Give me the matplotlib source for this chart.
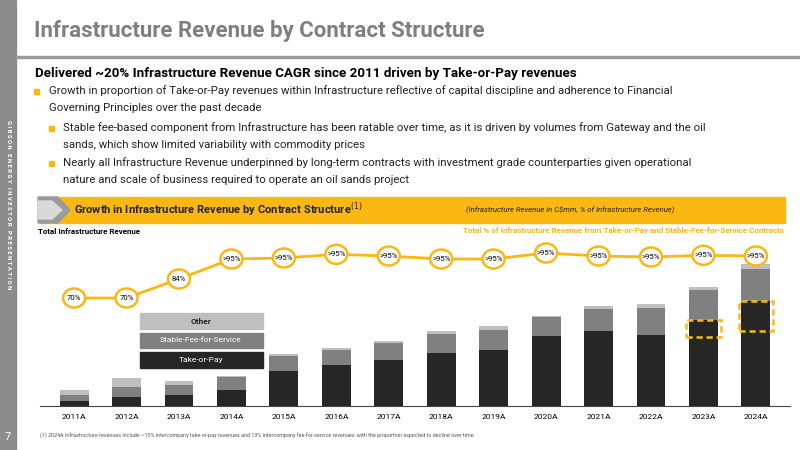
import matplotlib
matplotlib.use("Agg")
import matplotlib.pyplot as plt
from matplotlib.patches import Rectangle, Polygon, Ellipse

plt.rcParams["font.family"] = ["Roboto", "DejaVu Sans"]

years = ["2011A", "2012A", "2013A", "2014A", "2015A", "2016A", "2017A",
         "2018A", "2019A", "2020A", "2021A", "2022A", "2023A", "2024A"]
take_or_pay = [5.3, 9.3, 11, 15.7, 35, 40.7, 46, 53, 55.7, 70, 75, 71, 85.7, 105]
stable_fee = [5.7, 9.7, 10, 13.3, 15.3, 15.3, 17.3, 18.7, 20, 19, 22, 27, 30.3, 32.3]
other = [5.3, 9.3, 4, 1.3, 2, 1.7, 2, 3.6, 4.3, 1, 3.3, 3.7, 3.3, 5]
pct_labels = ["70%", "70%", "84%"] + [">95%"] * 11
pct_pos = [108, 108, 127, 147, 148, 151.7, 150, 147, 147, 153, 150, 149, 150.7, 150]

GOLD = "#FBB812"
C_TOP, C_SFS, C_OTH = "#262626", "#808080", "#bfbfbf"
W, H = 800, 450

fig = plt.figure(figsize=(8, 4.5), dpi=100)


def px(x, y):
    return x / W, 1 - y / H


def txt(x, y, s, **kw):
    fig.text(*px(x, y), s, **kw)


def rect(x0, y0, x1, y1, **kw):
    fig.patches.append(Rectangle(px(x0, y1), (x1 - x0) / W, (y1 - y0) / H,
                                 transform=fig.transFigure, **kw))


# sidebar
rect(0, 0, 16, 450, color="#8c8c8c")
txt(8, 205, "G I B S O N   E N E R G Y   I N V E S T O R   P R E S E N T A T I O N",
    rotation=-90, color="white", fontsize=4.2, ha="center", va="center", fontweight="bold")
txt(8, 437, "7", color="white", fontsize=8, ha="center", va="center")

# header
txt(34, 31, "Infrastructure Revenue by Contract Structure", fontsize=16,
    fontweight="bold", color="#7f7f7f", va="center")
rect(16, 56, 800, 58, color="#9a9a9a")
txt(35, 74, "Delivered ~20% Infrastructure Revenue CAGR since 2011 driven by Take-or-Pay revenues",
    fontsize=9.6, fontweight="bold", va="center")
bullets = [
    (36, 49, 91, "Growth in proportion of Take-or-Pay revenues within Infrastructure reflective of capital discipline and adherence to Financial"),
    (None, 49, 108, "Governing Principles over the past decade"),
    (51, 63, 128, "Stable fee-based component from Infrastructure has been ratable over time, as it is driven by volumes from Gateway and the oil"),
    (None, 63, 145, "sands, which show limited variability with commodity prices"),
    (51, 63, 163, "Nearly all Infrastructure Revenue underpinned by long-term contracts with investment grade counterparties given operational"),
    (None, 63, 180, "nature and scale of business required to operate an oil sands project"),
]
for bx, tx, y, s in bullets:
    if bx is not None:
        rect(bx - 2.5, y - 2.5, bx + 2.5, y + 2.5, color=GOLD)
    txt(tx, y, s, fontsize=8.2, va="center", color="#222222")

# banner
rect(40, 197, 785, 223, color=GOLD)
fig.patches.append(Polygon([px(38, 197), px(58, 197), px(70, 210), px(58, 223), px(38, 223)],
                           closed=True, transform=fig.transFigure, color="#9a9a9a"))
fig.patches.append(Polygon([px(38, 201), px(52, 201), px(62, 210), px(52, 219), px(38, 219)],
                           closed=True, transform=fig.transFigure, color="#d9d9d9"))
txt(74, 210, "Growth in Infrastructure Revenue by Contract Structure$^{(1)}$", fontsize=8,
    fontweight="bold", va="center", color="#222222")
txt(466, 210, "(Infrastructure Revenue in C$mm, % of Infrastructure Revenue)", fontsize=5.6,
    style="italic", va="center", color="#222222")
txt(38, 231, "Total Infrastructure Revenue", fontsize=5.8, fontweight="bold", va="center")
txt(784, 231, "Total % of Infrastructure Revenue from Take-or-Pay and Stable-Fee-for-Service Contracts",
    fontsize=5.8, color=GOLD, ha="right", va="center", fontweight="bold")

# chart
ax = fig.add_axes([40 / W, 1 - 406 / H, 750 / W, 170 / H])
x = list(range(len(years)))
bw = 0.55
ax.bar(x, take_or_pay, bw, color=C_TOP)
ax.bar(x, stable_fee, bw, bottom=take_or_pay, color=C_SFS)
b3 = [a + b for a, b in zip(take_or_pay, stable_fee)]
ax.bar(x, other, bw, bottom=b3, color=C_OTH)
for i in (12, 13):
    lo = take_or_pay[i] - (17 if i == 12 else 30)
    ax.add_patch(Rectangle((i - 0.33, lo), 0.66, take_or_pay[i] - lo, fill=False,
                           edgecolor=GOLD, lw=1.8, ls=(0, (2.5, 1.5)), zorder=5))
ax.plot(x, pct_pos, color=GOLD, lw=2, zorder=3)
for xi, yi, s in zip(x, pct_pos, pct_labels):
    ax.add_patch(Ellipse((xi, yi), 0.42, 19, facecolor="white", edgecolor=GOLD, lw=1.8, zorder=4))
    ax.text(xi, yi, s, fontsize=5.6, ha="center", va="center", zorder=6)
ax.set_xlim(-0.65, 13.65)
ax.set_ylim(0, 170)
ax.set_xticks(x)
ax.set_xticklabels(years, fontsize=6)
ax.tick_params(length=0, pad=6)
ax.set_yticks([])
for sp in ("top", "right", "left"):
    ax.spines[sp].set_visible(False)
ax.spines["bottom"].set_color("#444444")

# legend boxes
for y0, y1, c, s, tc in [(313, 329, C_OTH, "Other", "#222222"),
                         (333, 348, C_SFS, "Stable-Fee-for-Service", "white"),
                         (352, 368, C_TOP, "Take-or-Pay", "white")]:
    rect(140, y0, 263, y1, color=c, zorder=5)
    txt(201, (y0 + y1) / 2, s, fontsize=6, ha="center", va="center", color=tc,
        fontweight="bold" if s == "Other" else "normal", zorder=6)

txt(40, 436, "(1) 2024A Infrastructure revenues include ~15% intercompany take-or-pay revenues and 13% intercompany fee-for-service revenues, with the proportion expected to decline over time.",
    fontsize=3.9, color="#555555", va="center")

fig.savefig("out.png", dpi=100)
